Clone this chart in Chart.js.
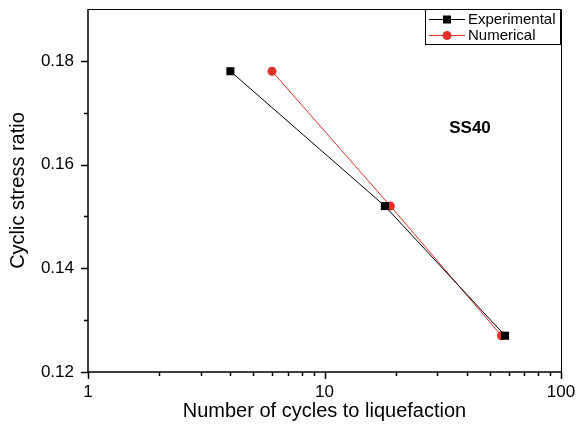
<!DOCTYPE html>
<html>
<head>
<meta charset="utf-8">
<script src="https://cdn.jsdelivr.net/npm/chart.js@4.4.1/dist/chart.umd.min.js"></script>
<style>
  html, body { margin: 0; padding: 0; background: #fff; }
  #wrap { width: 580px; height: 429px; }
</style>
</head>
<body>
<div id="wrap"><canvas id="graph" width="580" height="429"></canvas></div>
<script>
//Cycles to liquefaction and the cyclic stress ratio of each test
const expCycles = [4, 18, 58];
const expRatio = [0.178, 0.152, 0.127];
const numCycles = [6, 19, 56];
const numRatio = [0.178, 0.152, 0.127];

const seriesNames = ["Experimental", "Numerical"];
const sampleName = "SS40";

//Tick positions for the axes
const xMajor = [1, 10, 100];
const xMinor = [2, 3, 4, 5, 6, 7, 8, 9, 20, 30, 40, 50, 60, 70, 80, 90];
const yMajor = [0.12, 0.14, 0.16, 0.18];
const yMinor = [0.13, 0.15, 0.17];

const RED = "#e2312a";
const FONT = "'Liberation Sans', Arial, sans-serif";

const toPoints = (xs, ys) => xs.map((x, i) => ({ x, y: ys[i] }));

//Frame and tick marks, drawn outward on the left and bottom
const frame = {
  id: "frame",
  afterDraw(chart) {
    const { ctx, chartArea: a, scales } = chart;
    ctx.save();
    ctx.strokeStyle = "#000";
    ctx.lineWidth = 1;
    ctx.beginPath();
    ctx.moveTo(a.left, a.top + 0.5);
    ctx.lineTo(a.right + 0.5, a.top + 0.5);
    ctx.lineTo(a.right + 0.5, a.bottom);
    ctx.stroke();

    ctx.lineWidth = 1.5;
    ctx.beginPath();
    ctx.moveTo(a.left, a.top);
    ctx.lineTo(a.left, a.bottom);
    ctx.lineTo(a.right + 1, a.bottom);
    xMajor.concat(xMinor).forEach(v => {
      const px = Math.round(scales.x.getPixelForValue(v)) + 0.5;
      const len = xMajor.includes(v) ? 7 : 4;
      ctx.moveTo(px, a.bottom);
      ctx.lineTo(px, a.bottom + len);
    });
    yMajor.concat(yMinor).forEach(v => {
      const py = Math.round(scales.y.getPixelForValue(v)) + 0.5;
      const len = yMajor.includes(v) ? 7 : 4;
      ctx.moveTo(a.left, py);
      ctx.lineTo(a.left - len, py);
    });
    ctx.stroke();

    //sample label
    ctx.fillStyle = "#000";
    ctx.font = "bold 17px " + FONT;
    ctx.textAlign = "center";
    ctx.textBaseline = "middle";
    ctx.fillText(sampleName, a.left + 382, a.top + 119);
    ctx.restore();
  },
};

//Boxed legend in the top right corner
const boxLegend = {
  id: "boxLegend",
  afterDraw(chart) {
    const { ctx, chartArea: a } = chart;
    const x0 = a.right - 136, y0 = a.top, w = 135, h = 35;
    ctx.save();
    ctx.fillStyle = "#fff";
    ctx.fillRect(x0, y0, w, h);
    ctx.strokeStyle = "#000";
    ctx.lineWidth = 1;
    ctx.strokeRect(x0 + 0.5, y0 + 0.5, w, h);
    chart.data.datasets.forEach((ds, i) => {
      const cy = y0 + 10 + i * 16;
      ctx.strokeStyle = ds.borderColor;
      ctx.lineWidth = 1;
      ctx.beginPath();
      ctx.moveTo(x0 + 4, cy + 0.5);
      ctx.lineTo(x0 + 40, cy + 0.5);
      ctx.stroke();
      ctx.fillStyle = ds.backgroundColor;
      if (ds.pointStyle === "rect") {
        ctx.fillRect(x0 + 18, cy - 3.5, 8, 8);
      } else {
        ctx.beginPath();
        ctx.arc(x0 + 22, cy + 0.5, 4.5, 0, Math.PI * 2);
        ctx.fill();
      }
      ctx.fillStyle = "#000";
      ctx.font = "15px " + FONT;
      ctx.textAlign = "left";
      ctx.textBaseline = "middle";
      ctx.fillText(ds.label, x0 + 43, cy + 1);
    });
    ctx.restore();
  },
};

//Keep the plot area fixed, ignoring the overhang of the edge labels
const fitX = s => {
  s.height = 57;
  s.paddingLeft = 0;
  s.paddingRight = 0;
};
const fitY = s => {
  s.width = 88;
  s.paddingTop = 0;
  s.paddingBottom = 0;
};

new Chart("graph", {
  type: "line",
  data: {
    datasets: [
      {
        label: seriesNames[0],
        data: toPoints(expCycles, expRatio),
        borderColor: "#000",
        backgroundColor: "#000",
        borderWidth: 1,
        pointStyle: "rect",
        pointRadius: 5.7,
        pointBorderWidth: 0,
      },
      {
        label: seriesNames[1],
        data: toPoints(numCycles, numRatio),
        borderColor: RED,
        backgroundColor: RED,
        borderWidth: 1,
        pointStyle: "circle",
        pointRadius: 4.5,
        pointBorderWidth: 0,
      },
    ],
  },
  options: {
    responsive: false,
    animation: false,
    layout: { padding: { top: 9, right: 19, left: 0, bottom: 0 } },
    plugins: { legend: { display: false }, tooltip: { enabled: false } },
    scales: {
      x: {
        type: "logarithmic",
        min: 1,
        max: 100,
        grid: { display: false, drawTicks: false },
        border: { display: false },
        afterFit: fitX,
        ticks: {
          autoSkip: false,
          maxRotation: 0,
          padding: 10,
          color: "#000",
          font: { family: FONT, size: 17 },
          callback: v => (xMajor.includes(v) ? String(v) : ""),
        },
        title: {
          display: true,
          text: "Number of cycles to liquefaction",
          color: "#000",
          font: { family: FONT, size: 20 },
          padding: { top: 0, bottom: 6 },
        },
      },
      y: {
        min: 0.12,
        max: 0.19,
        grid: { display: false, drawTicks: false },
        border: { display: false },
        afterFit: fitY,
        ticks: {
          stepSize: 0.01,
          padding: 14,
          color: "#000",
          font: { family: FONT, size: 17 },
          callback: v => {
            const r = Math.round(v * 100) / 100;
            return yMajor.includes(r) ? r.toFixed(2) : "";
          },
        },
        title: {
          display: true,
          text: "Cyclic stress ratio",
          color: "#000",
          font: { family: FONT, size: 20 },
          padding: { top: 6, bottom: 0 },
        },
      },
    },
  },
  plugins: [frame, boxLegend],
});
</script>
</body>
</html>
